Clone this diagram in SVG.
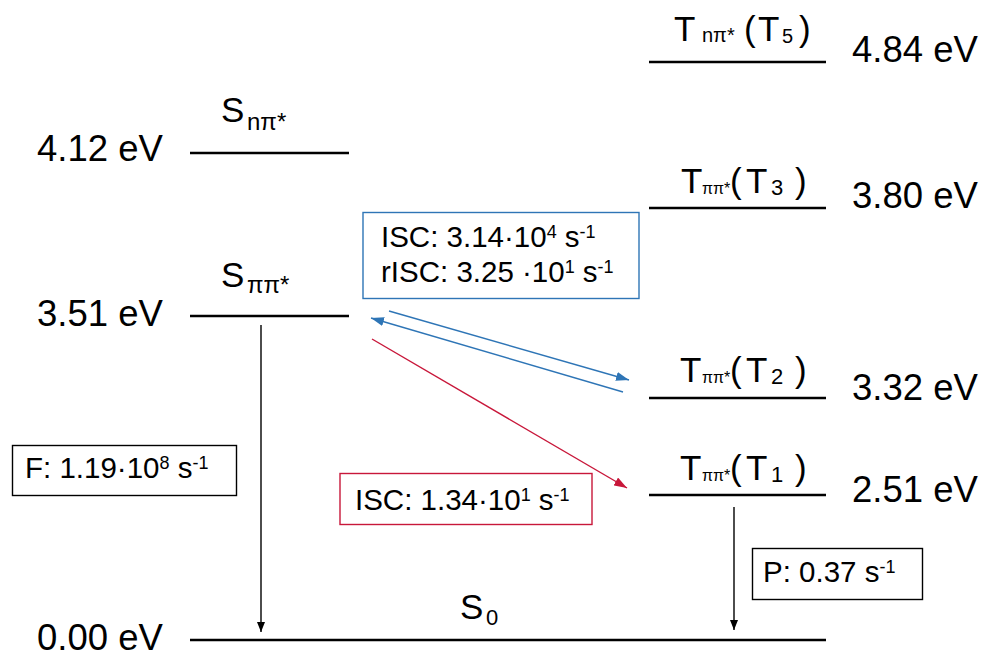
<svg xmlns="http://www.w3.org/2000/svg" width="987" height="653" viewBox="0 0 987 653">
<defs>
<style>
text{font-family:"Liberation Sans",Arial,sans-serif;fill:#000}
.lv{stroke:#000;stroke-width:2.5;fill:none}
.en{font-size:36.5px}
.lb{font-size:35px}
.sb{font-size:16px}
.ss{font-size:24px}
.sn{font-size:22px}
.bx{font-size:29.5px}
.sp{font-size:18px}
.box{fill:#fff;stroke-width:1.4}
.k{stroke:#000;stroke-width:1.4;fill:none}
.b{stroke:#2E75B6;stroke-width:1.4;fill:none}
.r{stroke:#C8173A;stroke-width:1.4;fill:none}
</style>
<marker id="ak" markerUnits="userSpaceOnUse" markerWidth="10" markerHeight="8" refX="10" refY="4" orient="auto"><path d="M0,0 L10,4 L0,8 z" fill="#000"/></marker>
<marker id="ab" markerUnits="userSpaceOnUse" markerWidth="13" markerHeight="9" refX="13" refY="4.5" orient="auto"><path d="M0,0 L13,4.5 L0,9 z" fill="#2E75B6"/></marker>
<marker id="ar" markerUnits="userSpaceOnUse" markerWidth="13" markerHeight="9" refX="13" refY="4.5" orient="auto"><path d="M0,0 L13,4.5 L0,9 z" fill="#C8173A"/></marker>
</defs>

<g id="S_npi">
<line class="lv" x1="190" y1="153" x2="349" y2="153"/>
<text class="lb" x="221" y="122">S<tspan class="ss" x="247" y="130">nπ*</tspan></text>
<text class="en" x="37" y="161">4.12 eV</text>
</g>
<g id="S_pipi">
<line class="lv" x1="190" y1="316" x2="349" y2="316"/>
<text class="lb" x="221" y="287">S<tspan class="ss" x="247" y="293">ππ*</tspan></text>
<text class="en" x="37" y="326">3.51 eV</text>
</g>
<g id="S0">
<line class="lv" x1="190" y1="640" x2="826" y2="640"/>
<text class="lb" x="460" y="619">S<tspan class="sn" x="486" y="625">0</tspan></text>
<text class="en" x="37" y="650">0.00 eV</text>
</g>
<g id="T5">
<line class="lv" x1="649" y1="62" x2="826" y2="62"/>
<text class="lb" x="674" y="41">T<tspan font-size="20px" x="702" y="42">nπ*</tspan><tspan x="744" y="41">(</tspan><tspan x="758" y="41">T</tspan><tspan font-size="20px" x="782" y="43">5</tspan><tspan x="799" y="41">)</tspan></text>
<text class="en" x="852" y="62">4.84 eV</text>
</g>
<g id="T3">
<line class="lv" x1="649" y1="208" x2="826" y2="208"/>
<text class="lb" x="681" y="193">T<tspan class="sb" x="702" y="194">ππ*</tspan><tspan x="730" y="193">(</tspan><tspan x="746" y="193">T</tspan><tspan class="sn" x="771" y="195">3</tspan><tspan x="795" y="193">)</tspan></text>
<text class="en" x="852" y="208">3.80 eV</text>
</g>
<g id="T2">
<line class="lv" x1="649" y1="398" x2="826" y2="398"/>
<text class="lb" x="680" y="382">T<tspan class="sb" x="702" y="383">ππ*</tspan><tspan x="730" y="382">(</tspan><tspan x="746" y="382">T</tspan><tspan class="sn" x="771" y="384">2</tspan><tspan x="795" y="382">)</tspan></text>
<text class="en" x="852" y="400">3.32 eV</text>
</g>
<g id="T1">
<line class="lv" x1="649" y1="495" x2="826" y2="495"/>
<text class="lb" x="680" y="480">T<tspan class="sb" x="702" y="481">ππ*</tspan><tspan x="730" y="480">(</tspan><tspan x="746" y="480">T</tspan><tspan class="sn" x="771" y="482">1</tspan><tspan x="795" y="480">)</tspan></text>
<text class="en" x="852" y="502">2.51 eV</text>
</g>

<g id="connectors">
<line class="k" x1="261" y1="325" x2="261" y2="632" marker-end="url(#ak)"/>
<line class="k" x1="734" y1="507" x2="734" y2="630" marker-end="url(#ak)"/>
<line class="b" x1="389" y1="311" x2="629" y2="380" marker-end="url(#ab)"/>
<line class="b" x1="623" y1="392" x2="371" y2="318" marker-end="url(#ab)"/>
<line class="r" x1="372" y1="339" x2="627" y2="488" marker-end="url(#ar)"/>
</g>

<g id="box_isc_risc">
<rect class="box" x="363" y="212.5" width="276" height="86" stroke="#2E75B6"/>
<text class="bx" x="381" y="247">ISC: 3.14·10<tspan class="sp" dy="-9">4</tspan><tspan dy="9"> s</tspan><tspan class="sp" dy="-9">-1</tspan></text>
<text class="bx" x="381" y="282">rISC: 3.25 ·10<tspan class="sp" dy="-9">1</tspan><tspan dy="9"> s</tspan><tspan class="sp" dy="-9">-1</tspan></text>
</g>
<g id="box_isc">
<rect class="box" x="340" y="473.5" width="252" height="51" stroke="#C8173A"/>
<text class="bx" x="355" y="510">ISC: 1.34·10<tspan class="sp" dy="-9">1</tspan><tspan dy="9"> s</tspan><tspan class="sp" dy="-9">-1</tspan></text>
</g>
<g id="box_F">
<rect class="box" x="12.5" y="445.5" width="224" height="50" stroke="#000"/>
<text class="bx" x="25" y="478">F: 1.19·10<tspan class="sp" dy="-9">8</tspan><tspan dy="9"> s</tspan><tspan class="sp" dy="-9">-1</tspan></text>
</g>
<g id="box_P">
<rect class="box" x="752.5" y="548.5" width="170" height="51" stroke="#000"/>
<text class="bx" x="763" y="582">P: 0.37 s<tspan class="sp" dy="-9">-1</tspan></text>
</g>
</svg>
